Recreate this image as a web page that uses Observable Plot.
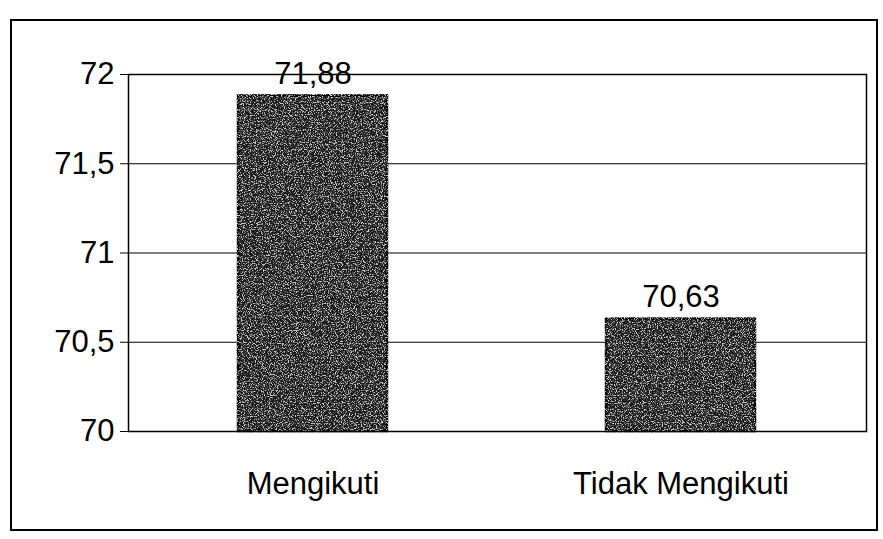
<!DOCTYPE html>
<html>
<head>
<meta charset="utf-8">
<script src="https://cdn.jsdelivr.net/npm/d3@7"></script>
<script src="https://cdn.jsdelivr.net/npm/@observablehq/plot@0.6"></script>
<style>
  html, body { margin: 0; padding: 0; background: #fff; }
  #wrap { position: relative; width: 883px; height: 539px; overflow: hidden; }
  #border { position: absolute; left: 10px; top: 19px; width: 868px; height: 512px; border: 2px solid #000; box-sizing: border-box; pointer-events: none; }
  #chart { position: absolute; left: 0; top: 0; }
</style>
</head>
<body>
<div id="wrap"><div id="chart"></div><div id="border"></div></div>
<script>
const categories = ["Mengikuti", "Tidak Mengikuti"];
const values = [71.88, 70.63];
const yTicks = [70, 70.5, 71, 71.5, 72];
const yBase = 70;

const data = categories.map((c, i) => ({category: c, value: values[i], base: yBase}));
const fmt = d => String(d).replace(".", ",");

const chart = Plot.plot({
  width: 883,
  height: 539,
  marginLeft: 128,
  marginRight: 17,
  marginTop: 74,
  marginBottom: 108,
  style: {fontFamily: "'Liberation Sans', Arial, sans-serif", fontSize: "31px", color: "#000", background: "transparent"},
  x: {domain: categories, paddingInner: 0.595, paddingOuter: 0.3, label: null, tickSize: 0, tickPadding: 40},
  y: {domain: [70, 72], ticks: yTicks, tickFormat: fmt, label: null, tickSize: 8, tickPadding: 6},
  marks: [
    Plot.gridY(yTicks, {stroke: "#000", strokeOpacity: 1, strokeWidth: 1.2}),
    Plot.barY(data, {x: "category", y1: "base", y2: "value", fill: "#1c1c1c", stroke: "#000", strokeWidth: 2.5, className: "grainbar"}),
    Plot.text(data, {x: "category", y: "value", text: d => fmt(d.value), lineAnchor: "bottom", dy: -12, fontSize: 31, fill: "#000"}),
    Plot.frame({stroke: "#000", strokeWidth: 1.5})
  ]
});

// speckled texture filter for the bars (style only)
const ns = "http://www.w3.org/2000/svg";
const defs = document.createElementNS(ns, "defs");
defs.innerHTML = `
<filter id="grain" x="-0.05" y="-0.05" width="1.1" height="1.1" color-interpolation-filters="sRGB">
  <feTurbulence type="fractalNoise" baseFrequency="0.85" numOctaves="2" seed="7" result="n"/>
  <feColorMatrix in="n" type="matrix" values="0 0 0 0 0.8  0 0 0 0 0.8  0 0 0 0 0.8  6 0 0 0 -3.0" result="spk"/>
  <feComposite in="spk" in2="SourceGraphic" operator="atop"/>
</filter>`;
chart.insertBefore(defs, chart.firstChild);
chart.querySelectorAll("g[class*='grainbar'] rect").forEach(r => r.setAttribute("filter", "url(#grain)"));

document.getElementById("chart").appendChild(chart);
</script>
</body>
</html>
